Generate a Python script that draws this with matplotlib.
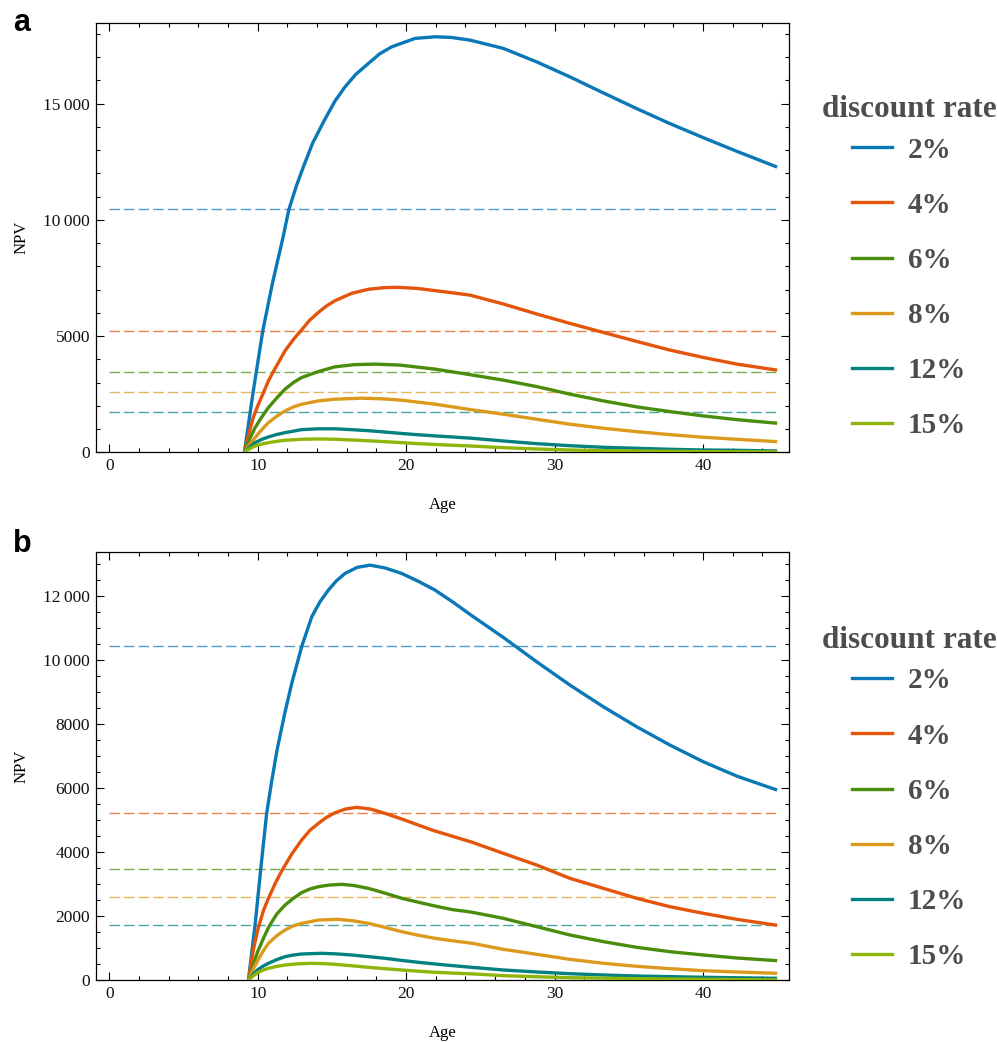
import matplotlib
matplotlib.use("Agg")
import matplotlib.pyplot as plt
from matplotlib.lines import Line2D
from matplotlib.ticker import MultipleLocator, FixedLocator

# ---------------- data ----------------
rates = ['2%', '4%', '6%', '8%', '12%', '15%']
colors = ['#0a78b6', '#e4540b', '#4a8d0c', '#dc9a1d', '#03817e', '#8fb50b']

# reference (dashed) levels, same in both panels
ref_levels = [10450, 5220, 3470, 2600, 1730]
ref_x = [0, 45]

# panel a
a_age_2 = [9.1, 9.7, 10.34, 11.0, 11.68, 12.1, 12.6, 13.07, 13.7, 14.49, 15.2, 15.88, 16.6, 17.45,
           18.2, 19.03, 20.6, 21.95, 23.07, 24.3, 26.55, 28.8, 31.04, 33.29, 35.54, 37.78, 40.03,
           42.28, 45.0]
a_npv_2 = [0, 2640, 5230, 7300, 9180, 10443, 11450, 12268, 13300, 14280, 15100, 15715, 16250, 16720,
           17130, 17440, 17800, 17870, 17840, 17727, 17370, 16790, 16145, 15455, 14780, 14135, 13530,
           12945, 12267]
a_age_4 = [9.1, 9.4, 9.7, 10.0, 10.38, 10.72, 11.05, 11.84, 12.4, 12.96, 13.5, 14.09, 14.6, 15.21,
           16.33, 17.45, 18.5, 19.47, 20.7, 21.95, 23.1, 24.3, 26.55, 28.8, 31.04, 33.29, 35.54,
           37.78, 40.03, 42.28, 45.0]
a_npv_4 = [0, 800, 1500, 2000, 2560, 3074, 3470, 4367, 4850, 5270, 5680, 6018, 6280, 6522,
           6837, 7010, 7080, 7095, 7050, 6953, 6860, 6760, 6379, 5948, 5544, 5155, 4767,
           4396, 4078, 3793, 3534]
a_age_6 = [9.1, 9.45, 9.82, 10.25, 10.72, 11.3, 11.84, 12.4, 12.96, 14.09, 15.21, 16.5, 17.9, 19.6,
           21.95, 24.3, 26.55, 28.8, 31.04, 33.29, 35.54, 37.78, 40.03, 42.28, 45.0]
a_npv_6 = [0, 560, 1062, 1500, 1924, 2350, 2716, 3000, 3217, 3474, 3677, 3770, 3792, 3750,
           3577, 3340, 3103, 2827, 2500, 2211, 1953, 1750, 1565, 1405, 1250]
a_age_8 = [9.1, 9.45, 9.82, 10.25, 10.72, 11.3, 11.84, 12.4, 12.96, 14.09, 15.21, 17.0, 18.4, 19.7,
           21.95, 24.4, 26.55, 28.8, 31.04, 33.29, 35.54, 37.78, 40.03, 42.28, 45.0]
a_npv_8 = [0, 330, 629, 960, 1277, 1560, 1780, 1950, 2069, 2211, 2284, 2327, 2300, 2241,
           2069, 1830, 1638, 1422, 1207, 1034, 888, 759, 646, 560, 457]
a_age_12 = [9.1, 9.45, 9.82, 10.25, 10.72, 11.3, 11.84, 12.96, 14.1, 15.21, 16.3, 17.45, 18.6, 19.7,
            20.8, 21.95, 23.1, 24.3, 26.55, 28.8, 31.04, 33.29, 35.54, 37.78, 40.03, 42.28, 45.0]
a_npv_12 = [0, 220, 414, 550, 660, 770, 845, 975, 1010, 1010, 975, 930, 870, 810,
            755, 705, 660, 610, 487, 371, 284, 215, 172, 129, 99, 86, 56]
a_age_15 = [9.1, 9.45, 9.82, 10.25, 10.72, 11.3, 11.84, 12.96, 14.09, 15.2, 16.33, 17.45, 18.58, 19.7,
            20.82, 22.5, 24.3, 26.55, 28.8, 31.04, 33.29, 35.54, 40.03, 45.0]
a_npv_15 = [0, 150, 272, 350, 414, 475, 517, 560, 575, 560, 530, 495, 457, 415,
            371, 320, 272, 200, 143, 99, 70, 56, 28, 15]

# panel b
b_age_2 = [9.37, 9.82, 10.2, 10.6, 10.95, 11.3, 11.8, 12.29, 12.97, 13.64, 14.2, 14.76, 15.3, 15.88,
           16.7, 17.57, 18.6, 19.7, 20.8, 21.95, 23.2, 24.4, 26.55, 28.8, 31.04, 33.29, 35.54, 37.78,
           40.03, 42.28, 45.0]
b_npv_2 = [0, 1730, 3466, 5215, 6250, 7193, 8300, 9275, 10440, 11357, 11830, 12190, 12480, 12710,
           12900, 12970, 12880, 12710, 12470, 12190, 11800, 11400, 10712, 9950, 9222, 8545, 7920, 7348,
           6827, 6380, 5943]
b_age_4 = [9.37, 9.7, 10.04, 10.4, 10.71, 11.2, 11.62, 12.3, 12.96, 13.5, 14.09, 14.6, 15.21, 15.9,
           16.67, 17.6, 18.58, 19.7, 20.82, 21.9, 23.07, 24.4, 26.55, 28.8, 31.04, 33.29, 35.54,
           37.78, 40.03, 42.28, 45.0]
b_npv_4 = [0, 950, 1650, 2200, 2550, 3050, 3420, 3950, 4382, 4680, 4903, 5080, 5235, 5350,
           5403, 5350, 5215, 5040, 4850, 4670, 4507, 4320, 3966, 3601, 3185, 2873, 2561,
           2299, 2092, 1905, 1718]
b_age_6 = [9.37, 9.7, 10.0, 10.4, 10.78, 11.3, 11.84, 12.4, 12.96, 13.5, 14.09, 14.8, 15.66, 16.5,
           17.45, 18.6, 19.7, 20.82, 21.95, 23.1, 24.4, 26.55, 28.8, 31.04, 33.29, 35.54, 37.78,
           40.03, 42.28, 45.0]
b_npv_6 = [0, 500, 900, 1330, 1700, 2080, 2352, 2560, 2740, 2850, 2924, 2975, 2998, 2960,
           2873, 2720, 2561, 2440, 2320, 2210, 2130, 1936, 1675, 1415, 1207, 1030, 894,
           790, 697, 613]
b_age_8 = [9.37, 9.7, 10.0, 10.35, 10.72, 11.3, 11.84, 12.4, 12.96, 14.09, 15.43, 16.4, 17.45, 18.6,
           19.7, 20.8, 21.95, 23.2, 24.4, 26.55, 28.8, 31.04, 33.29, 35.54, 37.78, 40.03, 42.28,
           45.0]
b_npv_8 = [0, 350, 620, 900, 1155, 1400, 1572, 1700, 1780, 1883, 1905, 1860, 1780, 1650,
           1519, 1410, 1311, 1230, 1160, 967, 812, 655, 531, 437, 363, 300, 260,
           218]
b_age_12 = [9.37, 9.7, 10.0, 10.35, 10.72, 11.3, 11.84, 12.4, 12.96, 14.31, 15.3, 16.33, 17.45, 18.58,
            19.7, 20.82, 22.6, 24.4, 26.55, 28.8, 31.04, 33.29, 35.54, 40.03, 45.0]
b_npv_12 = [0, 190, 330, 440, 531, 650, 738, 790, 822, 843, 825, 790, 740, 687,
            622, 562, 480, 406, 322, 260, 206, 166, 134, 94, 62]
b_age_15 = [9.37, 9.7, 10.0, 10.35, 10.72, 11.3, 11.84, 12.7, 13.63, 14.4, 15.21, 16.3, 17.45, 18.6,
            19.7, 20.8, 21.95, 23.3, 24.64, 26.55, 28.8, 31.04, 35.54, 40.03, 45.0]
b_npv_15 = [0, 140, 240, 315, 375, 435, 478, 515, 531, 522, 500, 455, 406, 362,
            322, 285, 250, 222, 197, 144, 112, 81, 50, 31, 9]

a_series = [(a_age_2, a_npv_2), (a_age_4, a_npv_4), (a_age_6, a_npv_6),
            (a_age_8, a_npv_8), (a_age_12, a_npv_12), (a_age_15, a_npv_15)]
b_series = [(b_age_2, b_npv_2), (b_age_4, b_npv_4), (b_age_6, b_npv_6),
            (b_age_8, b_npv_8), (b_age_12, b_npv_12), (b_age_15, b_npv_15)]

x_ticks = [0, 10, 20, 30, 40]
x_ticklabels = ['0', '10', '20', '30', '40']
a_yticks = [0, 5000, 10000, 15000]
a_yticklabels = ['0', '5000', '10\u2009000', '15\u2009000']
b_yticks = [0, 2000, 4000, 6000, 8000, 10000, 12000]
b_yticklabels = ['0', '2000', '4000', '6000', '8000', '10\u2009000', '12\u2009000']

# ---------------- figure ----------------
W, H = 997, 1042
fig = plt.figure(figsize=(W / 100, H / 100), dpi=100)

serif = 'Liberation Serif'
legend_gray = '#4d4d4d'


def frac(x0, y0, x1, y1):
    return [x0 / W, 1 - y1 / H, (x1 - x0) / W, (y1 - y0) / H]


def make_panel(rect, series, ylim, yticks, yticklabels, yminor, letter, letter_y, legend_top):
    ax = fig.add_axes(frac(*rect))
    for lvl, c in zip(ref_levels, colors):
        ax.plot(ref_x, [lvl, lvl], color=c, lw=1.0, alpha=0.72, dashes=(7.5, 3.0), zorder=1)
    for (xs, ys), c in zip(series, colors):
        ax.plot(xs, ys, color=c, lw=2.4, solid_capstyle='butt', solid_joinstyle='round', zorder=3)
    ax.set_xlim(-0.92, 45.8)
    ax.set_ylim(*ylim)
    ax.xaxis.set_major_locator(FixedLocator(x_ticks))
    ax.set_xticklabels(x_ticklabels)
    ax.xaxis.set_minor_locator(MultipleLocator(2))
    ax.yaxis.set_major_locator(FixedLocator(yticks))
    ax.set_yticklabels(yticklabels)
    ax.yaxis.set_minor_locator(MultipleLocator(yminor))
    ax.tick_params(which='both', direction='in', top=True, right=True, width=0.8, color='black')
    ax.tick_params(which='major', length=6)
    ax.tick_params(which='minor', length=3.2)
    ax.tick_params(axis='both', which='major', labelsize=12.5, pad=4, labelcolor='#111111')
    for lab in ax.get_xticklabels() + ax.get_yticklabels():
        lab.set_family(serif)
    for s in ax.spines.values():
        s.set_linewidth(0.9)
    ax.set_xlabel('Age', family=serif, fontsize=12, labelpad=16.5)
    ax.set_ylabel('NPV', family=serif, fontsize=12, labelpad=10)
    fig.text(13 / W, 1 - letter_y / H, letter, fontsize=22, fontweight='bold',
             family='Liberation Sans', va='baseline', ha='left')
    handles = [Line2D([], [], color=c, lw=2.4) for c in colors]
    leg = ax.legend(handles, rates, title='discount rate', loc='upper left',
                    bbox_to_anchor=(822 / W, 1 - legend_top / H), bbox_transform=fig.transFigure,
                    frameon=False, borderpad=0, borderaxespad=0,
                    prop={'family': serif, 'weight': 'bold', 'size': 21},
                    title_fontproperties={'family': serif, 'weight': 'bold', 'size': 22.5},
                    labelcolor=legend_gray, handlelength=1.37, handletextpad=0.55,
                    labelspacing=0.965)
    leg.get_title().set_color(legend_gray)
    leg._legend_box.sep = 9
    return ax


make_panel((95.7, 23.3, 789, 452.3), a_series, (0, 18450), a_yticks, a_yticklabels, 1000,
           'a', 31, 95)
make_panel((95.7, 551.7, 789, 980.3), b_series, (0, 13390), b_yticks, b_yticklabels, 500,
           'b', 552, 626)

fig.savefig('out.png', dpi=100)
